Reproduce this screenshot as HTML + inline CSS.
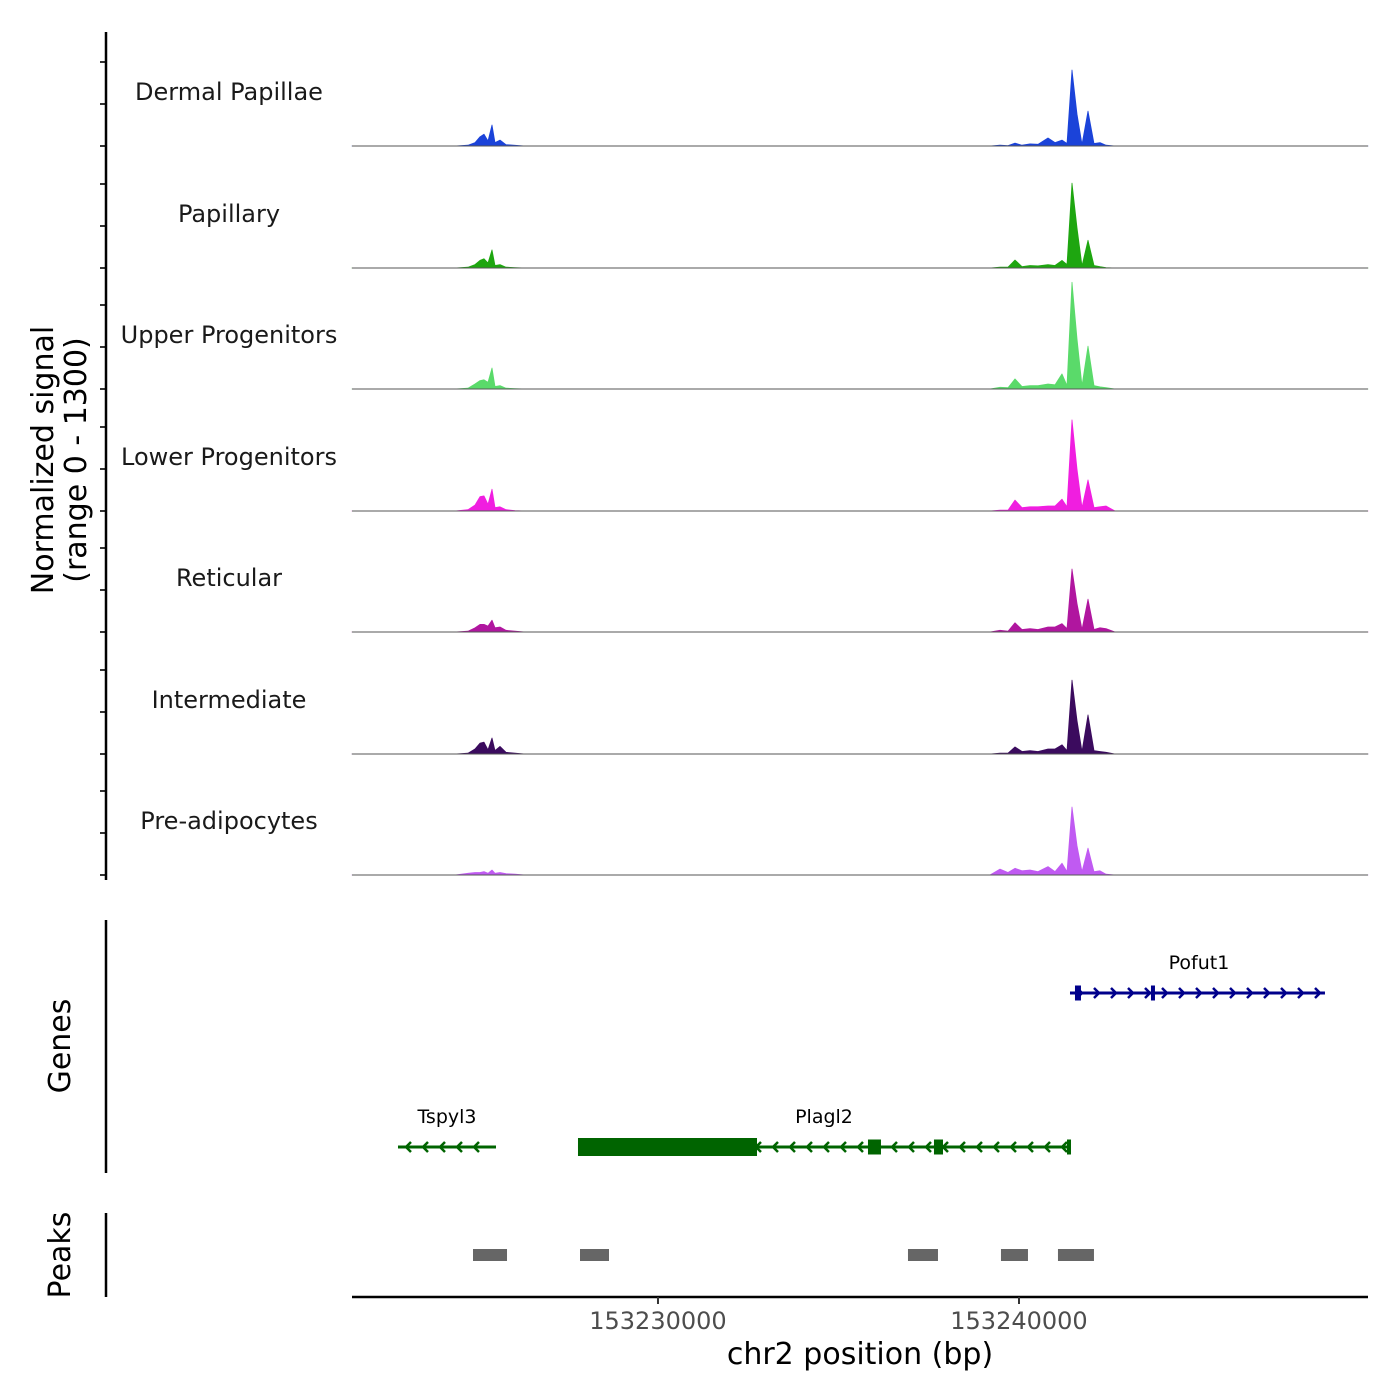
<!DOCTYPE html>
<html><head><meta charset="utf-8"><style>
html,body{margin:0;padding:0;background:#fff}
svg{display:block;font-family:"DejaVu Sans","Liberation Sans",sans-serif}
</style></head><body>
<svg id="chart" width="1400" height="1400" viewBox="0 0 1400 1400" xmlns="http://www.w3.org/2000/svg">
<rect width="1400" height="1400" fill="#fff"/>
</svg>
<script>
// ---- data ----
const trackNames = ["Dermal Papillae","Papillary","Upper Progenitors","Lower Progenitors","Reticular","Intermediate","Pre-adipocytes"];
const trackColors = ["#1b43d9","#1ea610","#5ada6a","#f01ee0","#b0169f","#3b0b5e","#c05af2"];
const positions = [153221524,153224377,153224737,153224931,153225070,153225180,153225291,153225402,153225485,153225624,153225790,153226039,153226316,
153239197,153239474,153239695,153239889,153240083,153240305,153240526,153240803,153240997,153241191,153241330,153241468,153241607,153241745,153241911,153242077,153242244,153242410,153242659,153249668];
const dermalValues = [0,0,10,40,110,140,60,250,40,70,15,8,0, 0,10,5,35,10,25,20,95,40,70,30,905,380,20,415,30,40,10,0,0];
const papillaryValues = [0,0,10,40,90,110,60,215,30,40,10,5,0, 0,10,10,95,15,30,25,40,30,90,40,1010,480,25,330,30,15,5,0,0];
const upperValues = [0,0,10,60,100,110,80,250,30,40,10,5,0, 0,20,15,120,30,40,40,60,50,180,40,1270,600,40,510,40,25,15,0,0];
const lowerValues = [0,0,15,70,170,180,80,260,40,50,15,5,0, 0,10,10,130,40,50,50,60,60,140,50,1085,500,40,370,40,50,60,0,0];
const reticularValues = [0,0,10,50,90,90,70,140,50,60,20,10,0, 0,20,10,110,30,40,30,60,60,100,40,750,340,30,390,30,50,40,0,0];
const intermediateValues = [0,0,10,60,130,140,50,190,40,90,20,10,0, 0,10,10,85,30,40,30,60,60,110,40,880,400,30,465,40,30,20,0,0];
const preValues = [0,0,20,30,30,40,20,60,20,30,15,10,0, 0,70,30,80,50,60,40,100,40,140,40,810,350,40,320,40,50,10,0,0];
const seriesValues = [dermalValues,papillaryValues,upperValues,lowerValues,reticularValues,intermediateValues,preValues];
const yTickValues = [0,500,1000];
const xTickValues = [153230000,153240000];
const xTickLabels = ["153230000","153240000"];
const geneNames = ["Pofut1","Plagl2","Tspyl3"];
const geneStarts = [153241413,153227784,153222798];
const geneEnds = [153248476,153241413,153225513];
const geneStrands = [1,-1,-1];
const geneExonStarts = [[153241551,153243656],[153227784,153235817,153237645,153241330],[]];
const geneExonEnds = [[153241717,153243767],[153232743,153236177,153237895,153241441],[]];
const peakStarts = [153224876,153227840,153236925,153239501,153241080];
const peakEnds = [153225818,153228643,153237756,153240249,153242077];

// ---- scales ----
const X0=352,X1=1368,D0=153221524,D1=153249668;
const xs = v => X0+(v-D0)/(D1-D0)*(X1-X0);
const baselines=[146,268,389,511,632,754,875];
const ys = (t,v) => baselines[t]-v*0.084;
const svg=document.getElementById('chart');
const NS="http://www.w3.org/2000/svg";
function mk(tag,attrs,parent){const e=document.createElementNS(NS,tag);for(const k in attrs)e.setAttribute(k,attrs[k]);(parent||svg).appendChild(e);return e;}

// tracks
seriesValues.forEach((vals,t)=>{
  const g=mk('g',{});
  
  
  let d='M'+xs(positions[0])+','+baselines[t];
  positions.forEach((p,i)=>{d+=' L'+xs(p).toFixed(1)+','+ys(t,vals[i]).toFixed(1);});
  d+=' L'+xs(positions[positions.length-1])+','+baselines[t]+' Z';
  const a=mk('path',{d:d,fill:trackColors[t],stroke:trackColors[t],'stroke-width':0.8,'stroke-linejoin':'round'},g);
  
  
  const bl=mk('line',{x1:X0,x2:X1,y1:baselines[t],y2:baselines[t],stroke:'#555','stroke-width':1},g);
  
  
  const lb=mk('text',{x:229,y:baselines[t]-46,'text-anchor':'middle','font-size':24,fill:'#1a1a1a'},g);
  lb.textContent=trackNames[t];
  
  
  yTickValues.forEach(v=>{
    const tk=mk('line',{x1:100,x2:106,y1:ys(t,v),y2:ys(t,v),stroke:'#333','stroke-width':2},g);
    
    
  });
});
let e;
e=mk('line',{x1:106,x2:106,y1:32,y2:880,stroke:'#000','stroke-width':2.5});


e=mk('text',{transform:'translate(53,460) rotate(-90)','text-anchor':'middle','font-size':30,fill:'#000'});
e.innerHTML='<tspan x="0" dy="0">Normalized signal</tspan><tspan x="0" dy="33">(range 0 - 1300)</tspan>';



// genes
e=mk('line',{x1:106,x2:106,y1:920,y2:1173,stroke:'#000','stroke-width':2.5});


e=mk('text',{transform:'translate(70,1046) rotate(-90)','text-anchor':'middle','font-size':30,fill:'#000'});
e.textContent='Genes';


const geneY=[993,1147,1147];
geneNames.forEach((n,i)=>{
  const col=geneStrands[i]>0?'#00008b':'#006400';
  const g=mk('g',{});
  
  
  const x0=xs(geneStarts[i]),x1=xs(geneEnds[i]),y=geneY[i];
  mk('line',{x1:x0,x2:x1,y1:y,y2:y,stroke:col,'stroke-width':3},g);
  for(let x=x0+10;x<x1-4;x+=17){
    const s=geneStrands[i];
    mk('polyline',{points:`${x-3*s},${y-5} ${x+2*s},${y} ${x-3*s},${y+5}`,fill:'none',stroke:col,'stroke-width':2.5},g);
  }
  geneExonStarts[i].forEach((s,j)=>{
    const a=xs(s),b=xs(geneExonEnds[i][j]);
    const h=(b-a)>50?18:15;
    mk('rect',{x:a,y:y-h/2,width:Math.max(b-a,3),height:h,fill:col},g);
  });
  const lx = i==0?1199:(x0+x1)/2;
  const t=mk('text',{x:lx,y:y-24,'text-anchor':'middle','font-size':19,fill:'#000'},g);
  t.textContent=n;
});

// peaks
e=mk('line',{x1:106,x2:106,y1:1213,y2:1297,stroke:'#000','stroke-width':2.5});


e=mk('text',{transform:'translate(70,1255) rotate(-90)','text-anchor':'middle','font-size':30,fill:'#000'});
e.textContent='Peaks';


peakStarts.forEach((s,i)=>{
  const r=mk('rect',{x:xs(s),y:1249,width:xs(peakEnds[i])-xs(s),height:12,fill:'#666'});
  
  
});

// x axis
e=mk('line',{x1:X0,x2:X1,y1:1297,y2:1297,stroke:'#000','stroke-width':2.5});


xTickValues.forEach((v,i)=>{
  const tk=mk('line',{x1:xs(v),x2:xs(v),y1:1297,y2:1304,stroke:'#333','stroke-width':2});
  
  
  const tl=mk('text',{x:xs(v),y:1329,'text-anchor':'middle','font-size':24,fill:'#4d4d4d'});
  tl.textContent=xTickLabels[i];
  
  
});
e=mk('text',{x:860,y:1364,'text-anchor':'middle','font-size':30,fill:'#000'});
e.textContent='chr2 position (bp)';


</script>
</body></html>
